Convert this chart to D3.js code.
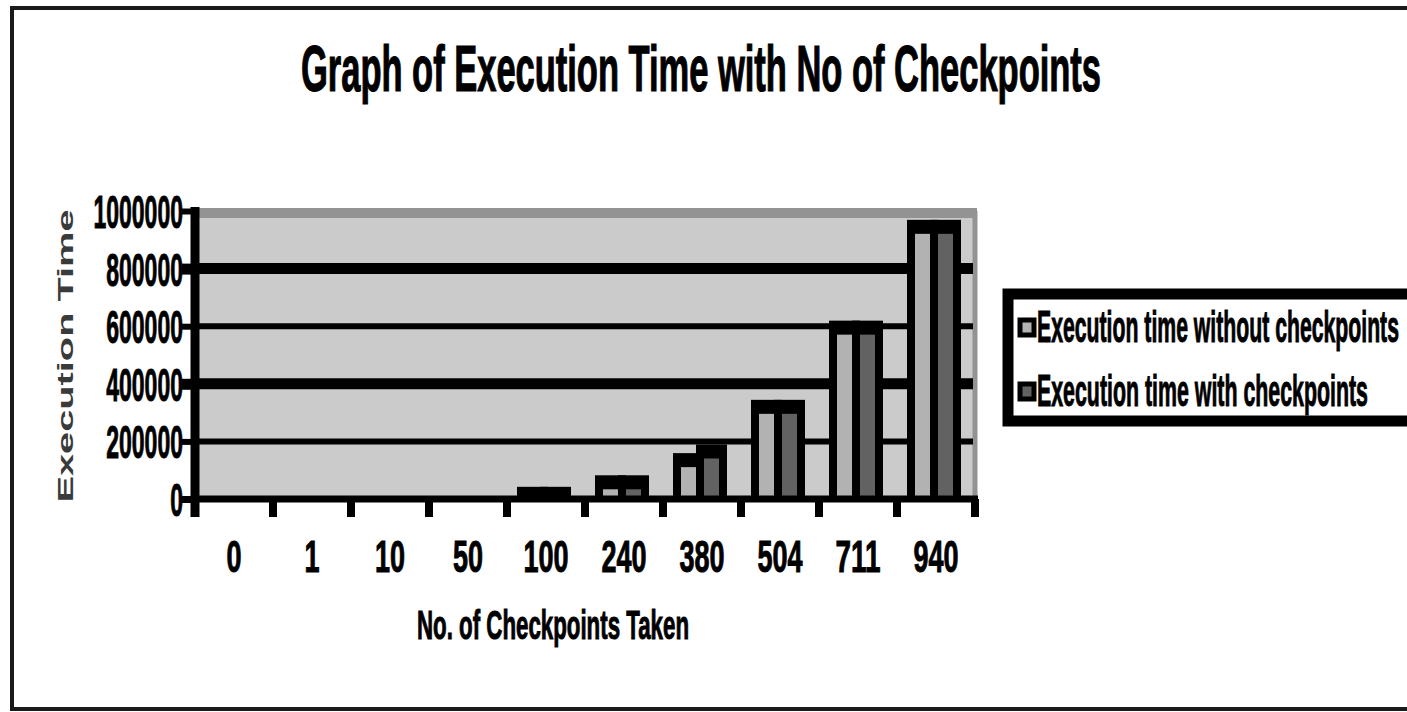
<!DOCTYPE html>
<html>
<head>
<meta charset="utf-8">
<script src="https://cdn.jsdelivr.net/npm/d3@7/dist/d3.min.js"></script>
<style>
  html, body { margin: 0; padding: 0; background: #fff; }
  svg { display: block; }
  text { font-family: "Liberation Sans", Arial, sans-serif; font-weight: bold; }
</style>
</head>
<body>
<svg id="chart" width="1407" height="712"></svg>
<script>
// Checkpoint counts on the x axis
const categories = ["0", "1", "10", "50", "100", "240", "380", "504", "711", "940"];
// Execution time for each checkpoint count
const withoutCheckpoints = [0, 0, 0, 0, 18000, 58000, 135000, 320000, 595000, 945000];
const withCheckpoints    = [0, 0, 0, 0, 18000, 58000, 165000, 320000, 595000, 945000];
const seriesNames = ["Execution time without checkpoints", "Execution time with checkpoints"];
const seriesColors = ["#b2b2b2", "#626262"];
const yTicks = [0, 200000, 400000, 600000, 800000, 1000000];
const yTickLabels = ["0", "200000", "400000", "600000", "800000", "1000000"];

const svg = d3.select("#chart");

const plot = { left: 195, right: 975, top: 211, bottom: 499 };

const x = d3.scaleBand().domain(categories).range([plot.left, plot.right]).padding(0);
const xSub = d3.scaleBand().domain([0, 1]).range([14, 60]).padding(0);
const y = d3.scaleLinear().domain([0, 1000000]).range([plot.bottom, plot.top]);

// outer chart frame
svg.append("rect")
  .attr("x", 12).attr("y", 8).attr("width", 1440).attr("height", 701)
  .attr("fill", "#fff").attr("stroke", "#1a1a1a").attr("stroke-width", 4);

// title
svg.append("text")
  .attr("x", 301).attr("y", 91)
  .attr("font-size", 64)
  .attr("textLength", 800).attr("lengthAdjust", "spacingAndGlyphs")
  .attr("fill", "#000").attr("stroke", "#000").attr("stroke-width", 1.2)
  .text("Graph of Execution Time with No of Checkpoints");

// plot area background
svg.append("rect")
  .attr("x", plot.left).attr("y", plot.top)
  .attr("width", plot.right - plot.left).attr("height", plot.bottom - plot.top)
  .attr("fill", "#cbcbcb");

// plot area border (top and right)
svg.append("line")
  .attr("x1", plot.left).attr("x2", plot.right + 2)
  .attr("y1", plot.top + 2).attr("y2", plot.top + 2)
  .attr("stroke", "#939393").attr("stroke-width", 10);
svg.append("line")
  .attr("x1", plot.right).attr("x2", plot.right)
  .attr("y1", plot.top).attr("y2", plot.bottom)
  .attr("stroke", "#939393").attr("stroke-width", 5);

// horizontal gridlines
const gridWidth = v => (v === 800000 || v === 400000) ? 11 : 6;
svg.append("g").selectAll("line")
  .data(yTicks.filter(v => v > 0 && v < 1000000))
  .join("line")
  .attr("x1", plot.left).attr("x2", plot.right - 2)
  .attr("y1", d => y(d)).attr("y2", d => y(d))
  .attr("stroke", "#000")
  .attr("stroke-width", d => gridWidth(d));

// bars: black body first, then the coloured fill inset inside it
const barData = [];
categories.forEach((c, i) => {
  [withoutCheckpoints[i], withCheckpoints[i]].forEach((v, s) => {
    barData.push({ cat: c, s: s, v: v });
  });
});
const bw = xSub.bandwidth();
const barsG = svg.append("g");
barsG.selectAll("rect.outline")
  .data(barData.filter(d => d.v > 0))
  .join("rect")
  .attr("class", "outline")
  .attr("x", d => x(d.cat) + xSub(d.s) - 4)
  .attr("y", d => y(d.v) - 7)
  .attr("width", bw + 8)
  .attr("height", d => y(0) - y(d.v) + 7)
  .attr("fill", "#000");
barsG.selectAll("rect.fill")
  .data(barData.filter(d => y(d.v) + 7 < y(0)))
  .join("rect")
  .attr("class", "fill")
  .attr("x", d => x(d.cat) + xSub(d.s) + 4)
  .attr("y", d => y(d.v) + 7)
  .attr("width", bw - 8)
  .attr("height", d => y(0) - y(d.v) - 7)
  .attr("fill", d => seriesColors[d.s]);

// y axis
const yAxis = svg.append("g")
  .attr("transform", `translate(${plot.left},0)`)
  .call(d3.axisLeft(y).tickValues(yTicks).tickSize(13)
    .tickFormat((d, i) => yTickLabels[i]));
yAxis.select(".domain").remove();
yAxis.selectAll(".tick line")
  .attr("stroke", "#000")
  .attr("stroke-width", d => d === 0 ? 7 : gridWidth(d));
yAxis.selectAll(".tick text")
  .attr("x", -12)
  .attr("font-size", 46)
  .attr("fill", "#000").attr("stroke", "#000").attr("stroke-width", 1)
  .attr("dy", 16.5)
  .attr("textLength", (d, i) => yTickLabels[i].length * 12.8)
  .attr("lengthAdjust", "spacingAndGlyphs");
svg.append("line")
  .attr("x1", plot.left).attr("x2", plot.left)
  .attr("y1", plot.top - 4).attr("y2", 517)
  .attr("stroke", "#000").attr("stroke-width", 9);

// x axis line and tick marks at category boundaries
svg.append("line")
  .attr("x1", plot.left).attr("x2", plot.right + 3)
  .attr("y1", plot.bottom).attr("y2", plot.bottom)
  .attr("stroke", "#000").attr("stroke-width", 7);
const boundaries = categories.map(c => x(c)).concat([plot.right]);
svg.append("g").selectAll("line")
  .data(boundaries)
  .join("line")
  .attr("x1", d => d).attr("x2", d => d)
  .attr("y1", plot.bottom).attr("y2", 517)
  .attr("stroke", "#000").attr("stroke-width", 8);

// x tick labels
const xAxis = svg.append("g")
  .attr("transform", `translate(0,${plot.bottom})`)
  .call(d3.axisBottom(x).tickSize(0).tickPadding(0));
xAxis.select(".domain").remove();
xAxis.selectAll(".tick text")
  .attr("font-size", 45)
  .attr("y", 0).attr("dy", 73)
  .attr("fill", "#000").attr("stroke", "#000").attr("stroke-width", 1)
  .attr("textLength", d => d.length * 15)
  .attr("lengthAdjust", "spacingAndGlyphs");

// axis titles
svg.append("text")
  .attr("x", 417).attr("y", 639)
  .attr("font-size", 40)
  .attr("textLength", 272).attr("lengthAdjust", "spacingAndGlyphs")
  .attr("fill", "#000").attr("stroke", "#000").attr("stroke-width", 1)
  .text("No. of Checkpoints Taken");
svg.append("text")
  .attr("transform", "translate(73,356) rotate(-90)")
  .attr("text-anchor", "middle")
  .attr("font-size", 22)
  .attr("textLength", 293).attr("lengthAdjust", "spacingAndGlyphs")
  .attr("fill", "#3a3a3a")
  .text("Execution Time");

// legend
const legend = svg.append("g");
legend.append("rect")
  .attr("x", 1008).attr("y", 294).attr("width", 460).attr("height", 127)
  .attr("fill", "#fff").attr("stroke", "#000").attr("stroke-width", 11);
const rowBase = [342, 406];
const rowLen = [362, 331];
seriesNames.forEach((name, i) => {
  legend.append("rect")
    .attr("x", 1020).attr("y", rowBase[i] - 22).attr("width", 14).attr("height", 15)
    .attr("fill", seriesColors[i]).attr("stroke", "#000").attr("stroke-width", 5);
  legend.append("text")
    .attr("x", 1037).attr("y", rowBase[i])
    .attr("font-size", 44)
    .attr("textLength", rowLen[i]).attr("lengthAdjust", "spacingAndGlyphs")
    .attr("fill", "#000").attr("stroke", "#000").attr("stroke-width", 1)
    .text(name);
});
</script>
</body>
</html>
